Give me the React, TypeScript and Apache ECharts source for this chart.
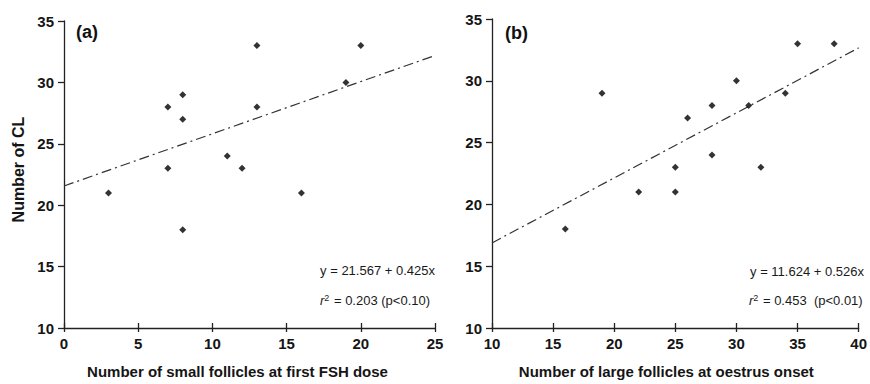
import React, { useEffect, useRef } from "react";
import * as echarts from "echarts";

// Panel (a): small follicles at first FSH dose vs number of CL
const smallFollicles = [3, 7, 7, 8, 8, 8, 11, 12, 13, 13, 16, 19, 20];
const clA = [21, 28, 23, 29, 27, 18, 24, 23, 33, 28, 21, 30, 33];
// Panel (b): large follicles at oestrus onset vs number of CL
const largeFollicles = [16, 19, 22, 25, 25, 26, 28, 28, 30, 31, 32, 34, 35, 38];
const clB = [18, 29, 21, 21, 23, 27, 28, 24, 30, 28, 23, 29, 33, 33];

// Regression coefficients [intercept, slope]
const fitA = [21.567, 0.425];
const fitB = [11.624, 0.526];

const xRangeA = [0, 25];
const xRangeB = [10, 40];
const yRange = [10, 35];

const eqA = ["y = 21.567 + 0.425x", "0.203 (p<0.10)"];
const eqB = ["y = 11.624 + 0.526x", "0.453  (p<0.01)"];

const FONT = "'Liberation Sans', Arial, sans-serif";

export default function App() {
  const ref = useRef<HTMLDivElement>(null);
  useEffect(() => {
    if (!ref.current) return;
    const chart = echarts.init(ref.current, null, { renderer: "svg" });

    const grids = [
      { left: 64, top: 21, width: 371, height: 308 },
      { left: 492, top: 19, width: 371, height: 312 },
    ];

    const labelStyle = {
      fontFamily: FONT,
      fontWeight: "bold" as const,
      fontSize: 15,
      color: "#151515",
    };

    const mkX = (gi: number, range: number[], name: string, padR: number) => [
      {
        type: "value",
        gridIndex: gi,
        min: range[0],
        max: range[1],
        interval: 5,
        splitLine: { show: false },
        axisLine: { onZero: false, lineStyle: { color: "#222", width: 1.3 } },
        axisTick: { show: true, inside: false, length: 4, lineStyle: { color: "#222", width: 1.3 } },
        axisLabel: { ...labelStyle, margin: 8, showMinLabel: true, showMaxLabel: true },
        name,
        nameLocation: "middle",
        nameGap: 36,
        nameTextStyle: { ...labelStyle, fontSize: 15, padding: [0, padR, 0, 0] },
      },
      {
        type: "value",
        gridIndex: gi,
        min: range[0],
        max: range[1],
        interval: 5,
        position: "bottom",
        splitLine: { show: false },
        axisLine: { show: false },
        axisTick: { show: true, inside: true, length: 5, lineStyle: { color: "#222", width: 1.3 } },
        axisLabel: { show: false },
      },
    ];

    const mkY = (gi: number, name: string) => ({
      type: "value",
      gridIndex: gi,
      min: yRange[0],
      max: yRange[1],
      interval: 5,
      splitLine: { show: false },
      axisLine: { onZero: false, lineStyle: { color: "#222", width: 1.3 } },
      axisTick: { show: true, inside: false, length: 6, lineStyle: { color: "#222", width: 1.3 } },
      axisLabel: { ...labelStyle, margin: 10 },
      name,
      nameLocation: "middle",
      nameGap: 38,
      nameTextStyle: { ...labelStyle, fontSize: 16, padding: [0, 0, 0, 10] },
    });

    const pts = (xs: number[], ys: number[]) => xs.map((x, i) => [x, ys[i]]);
    const fitLine = (fit: number[], range: number[]) =>
      range.map((x) => [x, fit[0] + fit[1] * x]);

    const scatter = (xi: number, yi: number, data: number[][]) => ({
      type: "scatter",
      xAxisIndex: xi,
      yAxisIndex: yi,
      data,
      symbol: "diamond",
      symbolSize: 7,
      itemStyle: { color: "#000" },
      z: 5,
    });

    const line = (xi: number, yi: number, data: number[][]) => ({
      type: "line",
      xAxisIndex: xi,
      yAxisIndex: yi,
      data,
      symbol: "none",
      lineStyle: { color: "#333", width: 1.2, type: [10, 4, 2, 4] },
      z: 3,
    });

    const eqText = (right: number, top: number, text: string) => ({
      type: "text",
      right,
      top,
      style: { text, fontFamily: FONT, fontSize: 13, fill: "#1a1a1a" },
    });

    const r2Text = (x: number, y: number, val: string) => ({
      type: "text",
      left: x,
      top: y,
      style: {
        text: "{i|r}{s|2}{n| = " + val + "}",
        rich: {
          i: { fontFamily: FONT, fontSize: 13, fontStyle: "italic", fill: "#1a1a1a" },
          s: { fontFamily: FONT, fontSize: 9, fill: "#1a1a1a", verticalAlign: "top", padding: [0, 1, 6, 0] },
          n: { fontFamily: FONT, fontSize: 13, fill: "#1a1a1a" },
        },
      },
    });

    chart.setOption({
      animation: false,
      grid: grids,
      xAxis: [
        ...mkX(0, xRangeA, "Number of small follicles at first FSH dose", 24),
        ...mkX(1, xRangeB, "Number of large follicles at oestrus onset", 18),
      ],
      yAxis: [mkY(0, "Number of CL"), mkY(1, "")],
      series: [
        line(0, 0, fitLine(fitA, xRangeA)),
        scatter(0, 0, pts(smallFollicles, clA)),
        line(2, 1, fitLine(fitB, xRangeB)),
        scatter(2, 1, pts(largeFollicles, clB)),
      ],
      graphic: [
        {
          type: "text",
          left: 76,
          top: 23,
          style: { text: "(a)", fontFamily: FONT, fontWeight: "bold", fontSize: 18, fill: "#111" },
        },
        {
          type: "text",
          left: 505,
          top: 24,
          style: { text: "(b)", fontFamily: FONT, fontWeight: "bold", fontSize: 18, fill: "#111" },
        },
        eqText(870 - 435, 264, eqA[0]),
        r2Text(320, 293, eqA[1]),
        eqText(870 - 864, 265, eqB[0]),
        r2Text(749, 293, eqB[1]),
      ],
    });
    return () => chart.dispose();
  }, []);
  return (
    <div
      ref={ref}
      style={{ position: "fixed", left: 0, top: 0, width: 870, height: 384, background: "#fff" }}
    />
  );
}
